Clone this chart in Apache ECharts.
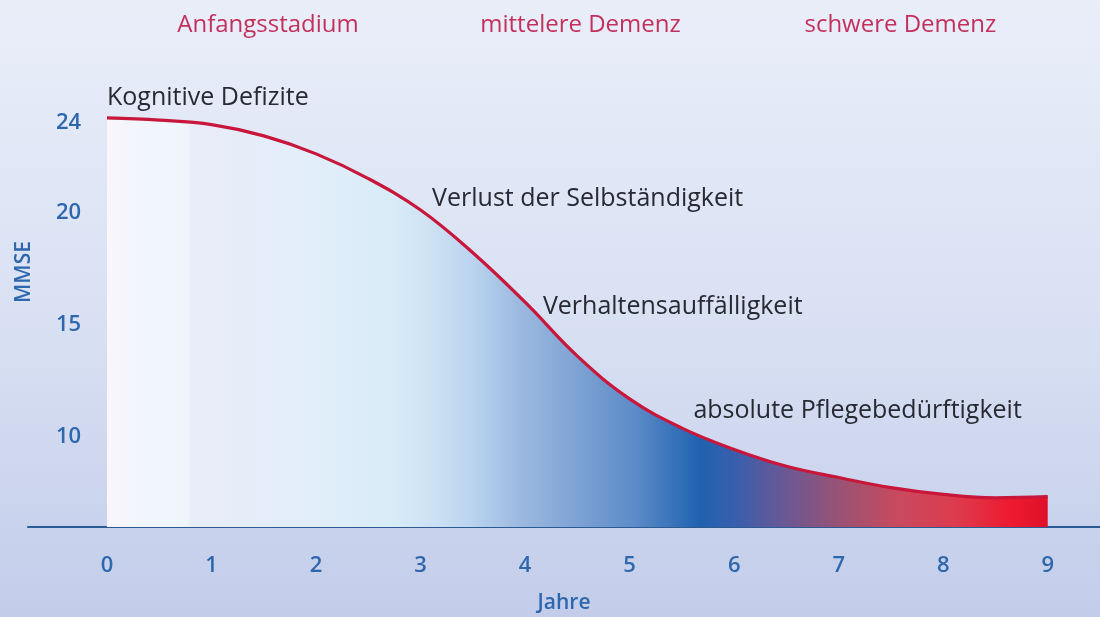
<!DOCTYPE html>
<html>
<head>
<meta charset="utf-8">
<script src="https://cdn.jsdelivr.net/npm/echarts@6/dist/echarts.min.js"></script>
<style>html,body{margin:0;padding:0;}#c{width:1100px;height:617px;}</style>
</head>
<body>
<div id="c"></div>
<script>
// ---- data ----
const years = [0,0.5,1,1.5,2,2.5,3,3.5,4,4.5,5,5.5,6,6.5,7,7.5,8,8.5,9];
const mmse  = [24.2,24.1,23.9,23.4,22.6,21.5,20.1,18.2,16.0,13.6,11.7,10.4,9.45,8.7,8.2,7.75,7.45,7.3,7.35];
const xTicks = [0,1,2,3,4,5,6,7,8,9];
const yTicks = [10,15,20,24];
const stages = ['Anfangsstadium','mittelere Demenz','schwere Demenz'];
const stageX = [1.54,4.53,7.59];
const stageY = 28.33;
const notes = ['Kognitive Defizite','Verlust der Selbständigkeit','Verhaltensauffälligkeit','absolute Pflegebedürftigkeit'];
const noteX = [0,3.11,4.17,5.61];
const noteY = [25.1,20.6,15.8,11.15];

const chart = echarts.init(document.getElementById('c'), null, {renderer:'canvas'});
const FONT = 'Open Sans';
const blue = '#2f67ad';

const option = {
  animation:false,
  backgroundColor:{type:'linear',x:0,y:0,x2:0,y2:1,colorStops:[
    {offset:0,color:'#e9eef9'},{offset:0.5,color:'#d9e1f3'},{offset:1,color:'#c3cdea'}]},
  grid:{left:28,right:0,top:10,bottom:90,containLabel:false,outerBoundsMode:'none'},
  xAxis:{type:'value',min:-0.756,max:9.5,
    name:'Jahre',nameLocation:'middle',nameGap:66,
    nameTextStyle:{color:blue,fontSize:21,fontFamily:FONT,fontWeight:600},
    axisLine:{show:true,lineStyle:{color:'#2c5a92',width:2}},
    axisTick:{show:false},splitLine:{show:false},
    axisLabel:{customValues:xTicks,color:blue,fontSize:22,fontFamily:FONT,fontWeight:600,margin:28}},
  yAxis:{type:'value',min:6,max:29,
    axisLine:{show:false},axisTick:{show:false},splitLine:{show:false},
    axisLabel:{customValues:yTicks,inside:true,margin:28,color:blue,fontSize:22,fontFamily:FONT,fontWeight:600}},
  graphic:[
    {type:'text',x:24,y:272,rotation:Math.PI/2,
      style:{text:'MMSE',fill:blue,font:'600 21px "'+FONT+'"',align:'center',verticalAlign:'middle'}}
  ],
  series:[{
    type:'line',smooth:0.4,symbol:'none',
    data:years.map((x,i)=>[x,mmse[i]]),
    lineStyle:{color:'#c8173a',width:3.2},
    areaStyle:{opacity:1,color:{type:'linear',x:0,y:0,x2:1,y2:0,colorStops:[
      {offset:0,color:'#faf6fb'},{offset:0.02,color:'#f4f6fc'},{offset:0.085,color:'#eef6fc'},
      {offset:0.09,color:'#e8ecf8'},{offset:0.22,color:'#e2eefa'},{offset:0.3,color:'#d8ecf8'},
      {offset:0.34,color:'#cfe3f5'},{offset:0.39,color:'#b9d3ee'},{offset:0.44,color:'#9bb9e0'},
      {offset:0.5,color:'#7ea2d4'},{offset:0.56,color:'#5d8cc8'},{offset:0.63,color:'#1f62b0'},
      {offset:0.67,color:'#3a5eac'},{offset:0.72,color:'#6a5894'},{offset:0.78,color:'#9a5274'},
      {offset:0.84,color:'#c84a5e'},{offset:0.9,color:'#dc3c4e'},{offset:0.96,color:'#ee1a30'},
      {offset:1,color:'#e0102a'}]}},
    markPoint:{symbol:'circle',symbolSize:0,silent:true,
      label:{show:true,position:'right',distance:0,color:'#272a33',fontSize:25,fontFamily:FONT,
        formatter:p=>p.name},
      data:[
        ...notes.map((n,i)=>({name:n,coord:[noteX[i],noteY[i]]})),
        ...stages.map((s,i)=>({name:s,coord:[stageX[i],stageY],
          label:{position:'inside',color:'#c4305c',fontSize:24,fontFamily:FONT,fontWeight:500}}))
      ]}
  }]
};
chart.setOption(option);
</script>
</body>
</html>
